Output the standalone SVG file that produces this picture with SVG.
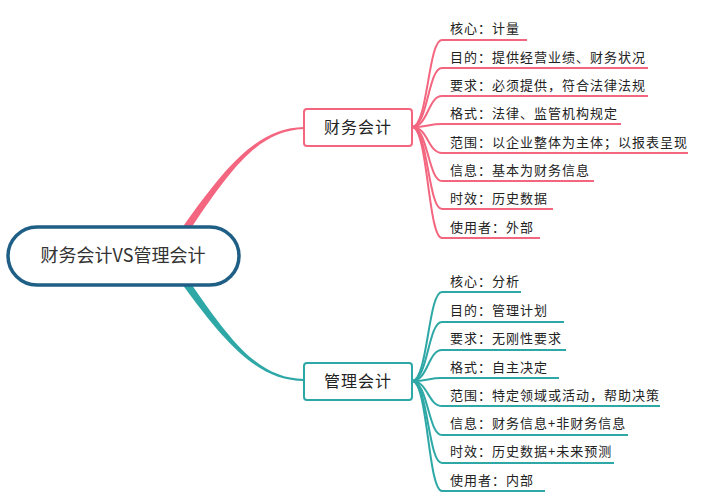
<svg xmlns="http://www.w3.org/2000/svg" width="702" height="495" viewBox="0 0 702 495">
<style>
.t{font-family:"Noto Sans CJK SC","Liberation Sans",sans-serif;font-size:13px;fill:#222;letter-spacing:1px}
.b{font-family:"Noto Sans CJK SC","Liberation Sans",sans-serif;font-size:16px;fill:#222;letter-spacing:1px}
.p{stroke:#f4667f;fill:none;stroke-width:2}
.g{stroke:#2ea8a6;fill:none;stroke-width:2}
</style>
<rect width="702" height="495" fill="#fff"/>
<g id="connectors">
<path d="M182,228 C230,160 260,128 304,127 L304,129 C262,131 236,160 190,230 Z" fill="#f4667f"/>
<path d="M182,284 C230,350 260,380 304,381 L304,379 C262,378 236,350 190,282 Z" fill="#2ea8a6"/>
<g class="p">
<path d="M412,127 C428,127 428,40 442,40 L527,40"/>
<path d="M412,127 C428,127 428,68 442,68 L648,68"/>
<path d="M412,127 C428,127 428,96 442,96 L648,96"/>
<path d="M412,127 C428,127 428,124 442,124 L621,124"/>
<path d="M412,127 C428,127 428,153 442,153 L688,153"/>
<path d="M412,127 C428,127 428,181 442,181 L594,181"/>
<path d="M412,127 C428,127 428,209 442,209 L553,209"/>
<path d="M412,127 C428,127 428,238 442,238 L540,238"/>
</g>
<g class="g">
<path d="M412,381 C428,381 428,292 442,292 L521,292"/>
<path d="M412,381 C428,381 428,322 442,322 L564,322"/>
<path d="M412,381 C428,381 428,350 442,350 L566,350"/>
<path d="M412,381 C428,381 428,378 442,378 L559,378"/>
<path d="M412,381 C428,381 428,406 442,406 L660,406"/>
<path d="M412,381 C428,381 428,435 442,435 L628,435"/>
<path d="M412,381 C428,381 428,463 442,463 L614,463"/>
<path d="M412,381 C428,381 428,491 442,491 L545,491"/>
</g>
</g>
<g id="root"><rect x="8" y="227" width="231" height="58" rx="29" fill="#fff" stroke="#1f5f86" stroke-width="3.5"/>
<text x="123" y="262" text-anchor="middle" style="font-family:'Noto Sans CJK SC',serif;font-size:18px;fill:#333">财务会计VS管理会计</text></g>
<g id="fin"><rect x="304" y="109" width="108" height="37" rx="3" fill="#fff" stroke="#f4667f" stroke-width="2"/><text class="b" x="358" y="133" text-anchor="middle">财务会计</text></g>
<g id="mgmt"><rect x="304" y="363" width="108" height="37" rx="3" fill="#fff" stroke="#2ea8a6" stroke-width="2"/><text class="b" x="358" y="387" text-anchor="middle">管理会计</text></g>
<g id="fin-leaves">
<text class="t" x="450" y="33">核心：计量</text>
<text class="t" x="450" y="62">目的：提供经营业绩、财务状况</text>
<text class="t" x="450" y="90">要求：必须提供，符合法律法规</text>
<text class="t" x="450" y="118">格式：法律、监管机构规定</text>
<text class="t" x="450" y="147">范围：以企业整体为主体；以报表呈现</text>
<text class="t" x="450" y="175">信息：基本为财务信息</text>
<text class="t" x="450" y="203">时效：历史数据</text>
<text class="t" x="450" y="232">使用者：外部</text>
</g>
<g id="mgmt-leaves">
<text class="t" x="450" y="286">核心：分析</text>
<text class="t" x="450" y="315">目的：管理计划</text>
<text class="t" x="450" y="343">要求：无刚性要求</text>
<text class="t" x="450" y="372">格式：自主决定</text>
<text class="t" x="450" y="400">范围：特定领域或活动，帮助决策</text>
<text class="t" x="450" y="428">信息：财务信息+非财务信息</text>
<text class="t" x="450" y="456">时效：历史数据+未来预测</text>
<text class="t" x="450" y="485">使用者：内部</text>
</g>
</svg>
